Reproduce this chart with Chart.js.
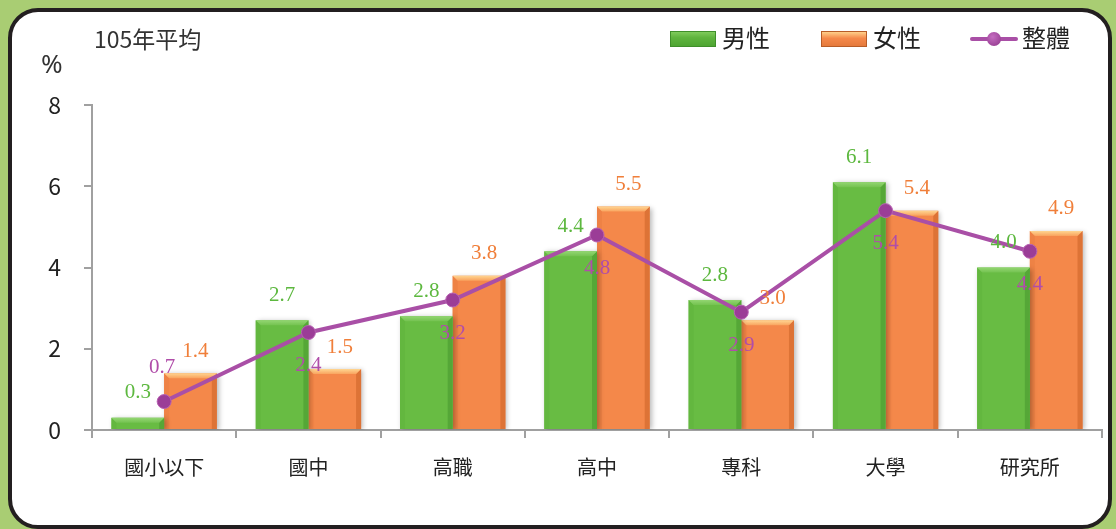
<!DOCTYPE html>
<html>
<head>
<meta charset="utf-8">
<script src="https://cdn.jsdelivr.net/npm/chart.js@4.4.1/dist/chart.umd.min.js"></script>
<style>
html, body { margin: 0; padding: 0; }
body { width: 1116px; height: 529px; background: #A9CD73; position: relative; overflow: hidden; font-family: "Noto Sans CJK TC", "Noto Sans", sans-serif; }
#card { position: absolute; left: 8px; top: 8px; width: 1104px; height: 521px; box-sizing: border-box; border: 4px solid #231f20; border-radius: 30px; background: #fff; }
#chart { position: absolute; left: 0; top: 0; }
#title { position: absolute; left: 94px; top: 27px; font-size: 23px; line-height: 1; color: #333; }
#unit { position: absolute; left: 41px; top: 50px; font-size: 26px; line-height: 1; color: #333; font-family: "Noto Sans", sans-serif; }
.lg { position: absolute; top: 25px; font-size: 24px; line-height: 1; color: #222; }
.sw { position: absolute; top: 31px; width: 46px; height: 16px; box-sizing: border-box; }
.sw.male { background: linear-gradient(#7fcb5c, #5fb43e 40%, #4ea532); border: 1px solid #3f8f2a; }
.sw.female { background: linear-gradient(#ffd08a, #f5894b 45%, #e57a3c); border: 1px solid #b85d28; }
.sw.line { height: 4px; top: 37px; background: #A94FA6; border-radius: 2px; }
.sw.line::after { content: ""; position: absolute; left: 17px; top: -5px; width: 14px; height: 14px; border-radius: 50%; background: radial-gradient(circle at 40% 35%, #c46cc0, #8e3589); }
</style>
</head>
<body>
<div id="card"></div>
<canvas id="chart" width="1116" height="529"></canvas>
<div id="title">105年平均</div>
<div id="unit">%</div>
<div id="legend"></div>
<script>
const categories = ['國小以下', '國中', '高職', '高中', '專科', '大學', '研究所']
const seriesNames = ['男性', '女性', '整體']
const maleValues = [0.3, 2.7, 2.8, 4.4, 3.2, 6.1, 4.0]
const femaleValues = [1.4, 1.5, 3.8, 5.5, 2.7, 5.4, 4.9]
const overallValues = [0.7, 2.4, 3.2, 4.8, 2.9, 5.4, 4.4]
const maleLabels = ['0.3', '2.7', '2.8', '4.4', '2.8', '6.1', '4.0']
const femaleLabels = ['1.4', '1.5', '3.8', '5.5', '3.0', '5.4', '4.9']
const overallLabels = ['0.7', '2.4', '3.2', '4.8', '2.9', '5.4', '4.4']
const yTicks = [0, 2, 4, 6, 8]

// legend in html
const legendLeft = [670, 821, 970]
const swClass = ['male', 'female', 'line']
const legend = document.getElementById('legend')
seriesNames.forEach((name, i) => {
  const sw = document.createElement('div')
  sw.className = 'sw ' + swClass[i]
  sw.style.left = legendLeft[i] + 'px'
  if (i === 2) sw.style.width = '48px'
  legend.appendChild(sw)
  const t = document.createElement('div')
  t.className = 'lg'
  t.textContent = name
  t.style.left = (legendLeft[i] + 52) + 'px'
  legend.appendChild(t)
})

const poly = (ctx, pts, fill) => {
  ctx.beginPath()
  ctx.moveTo(pts[0][0], pts[0][1])
  for (let k = 1; k < pts.length; k++) ctx.lineTo(pts[k][0], pts[k][1])
  ctx.closePath()
  ctx.fillStyle = fill
  ctx.fill()
}

// bevel + shadow on the bars
const bevel = {
  id: 'bevel',
  beforeDatasetDraw(chart, args) {
    if (args.meta.type !== 'bar') return
    const ctx = chart.ctx
    ctx.save()
    ctx.shadowColor = 'rgba(0,0,0,0.28)'
    ctx.shadowBlur = 5
    ctx.shadowOffsetX = 2
    ctx.shadowOffsetY = 1
  },
  afterDatasetDraw(chart, args) {
    if (args.meta.type !== 'bar') return
    const ctx = chart.ctx
    ctx.restore()
    const ds = chart.data.datasets[args.index]
    ctx.save()
    args.meta.data.forEach(el => {
      const l = el.x - el.width / 2, r = el.x + el.width / 2, t = el.y, b = el.base
      const e = Math.min(5, (b - t) / 2)
      poly(ctx, [[l, t], [l + e, t + e], [l + e, b], [l, b]], ds.edgeLeft)
      poly(ctx, [[r, t], [r, b], [r - e, b], [r - e, t + e]], ds.edgeRight)
      const g = ctx.createLinearGradient(0, t, 0, t + e)
      g.addColorStop(0, ds.topLight)
      g.addColorStop(1, ds.topDark)
      poly(ctx, [[l, t], [r, t], [r - e, t + e], [l + e, t + e]], g)
    })
    ctx.restore()
  }
}

const valueLabels = {
  id: 'valueLabels',
  afterDatasetsDraw(chart) {
    const ctx = chart.ctx
    ctx.save()
    ctx.font = '21px "Liberation Serif", "Times New Roman", serif'
    ctx.textAlign = 'center'
    ctx.textBaseline = 'middle'
    chart.data.datasets.forEach((ds, i) => {
      const meta = chart.getDatasetMeta(i)
      ctx.fillStyle = ds.labelColor
      meta.data.forEach((el, j) => {
        let x = el.x, y = el.y
        if (ds.type === 'line') {
          if (j === 0) { x -= 2; y -= 34 } else { y += 33 }
        } else if (i === 1) {
          y -= 25
        } else {
          x += 5
          y -= 22
        }
        ctx.fillText(ds.valueLabels[j], x, y)
      })
    })
    ctx.restore()
  }
}

const ctx = document.getElementById('chart').getContext('2d')
new Chart(ctx, {
  type: 'bar',
  data: {
    labels: categories,
    datasets: [
      {
        type: 'line',
        label: seriesNames[2],
        data: overallValues,
        order: 0,
        borderColor: '#A94FA6',
        borderWidth: 4,
        pointRadius: 7,
        pointBackgroundColor: '#9B3D97',
        pointBorderColor: '#B862B3',
        pointBorderWidth: 1,
        tension: 0,
        labelColor: '#B04DA9',
        valueLabels: overallLabels
      },
      {
        label: seriesNames[0],
        data: maleValues,
        order: 1,
        backgroundColor: '#68BC43',
        borderWidth: 0,
        categoryPercentage: 0.73,
        barPercentage: 1,
        edgeLeft: '#63b73f',
        edgeRight: '#55a737',
        topLight: '#93d672',
        topDark: '#74c250',
        labelColor: '#5DB83F',
        valueLabels: maleLabels
      },
      {
        label: seriesNames[1],
        data: femaleValues,
        order: 1,
        backgroundColor: '#F4884A',
        borderWidth: 0,
        categoryPercentage: 0.73,
        barPercentage: 1,
        edgeLeft: '#ee8245',
        edgeRight: '#dd7336',
        topLight: '#ffd692',
        topDark: '#f9a35e',
        labelColor: '#F07F3A',
        valueLabels: femaleLabels
      }
    ]
  },
  options: {
    responsive: false,
    animation: false,
    devicePixelRatio: 1,
    layout: { padding: { left: 0, top: 105, right: 14, bottom: 0 } },
    plugins: { legend: { display: false }, tooltip: { enabled: false } },
    scales: {
      x: {
        grid: { offset: true, drawOnChartArea: false, tickLength: 8, color: '#a0a0a0', lineWidth: 2 },
        border: { color: '#a0a0a0', width: 2 },
        ticks: { padding: 17, color: '#222', font: { size: 20, family: '"Noto Sans CJK TC", sans-serif' } },
        afterFit(s) { s.height = 99 }
      },
      y: {
        min: 0,
        max: 8,
        afterBuildTicks(s) { s.ticks = yTicks.map(v => ({ value: v })) },
        ticks: { padding: 23, color: '#222', font: { size: 23, family: '"Noto Sans CJK TC", sans-serif' } },
        grid: { drawOnChartArea: false, tickLength: 8, color: '#a0a0a0', lineWidth: 2 },
        border: { color: '#a0a0a0', width: 2 },
        afterFit(s) { s.width = 92 }
      }
    }
  },
  plugins: [bevel, valueLabels]
})
</script>
</body>
</html>
